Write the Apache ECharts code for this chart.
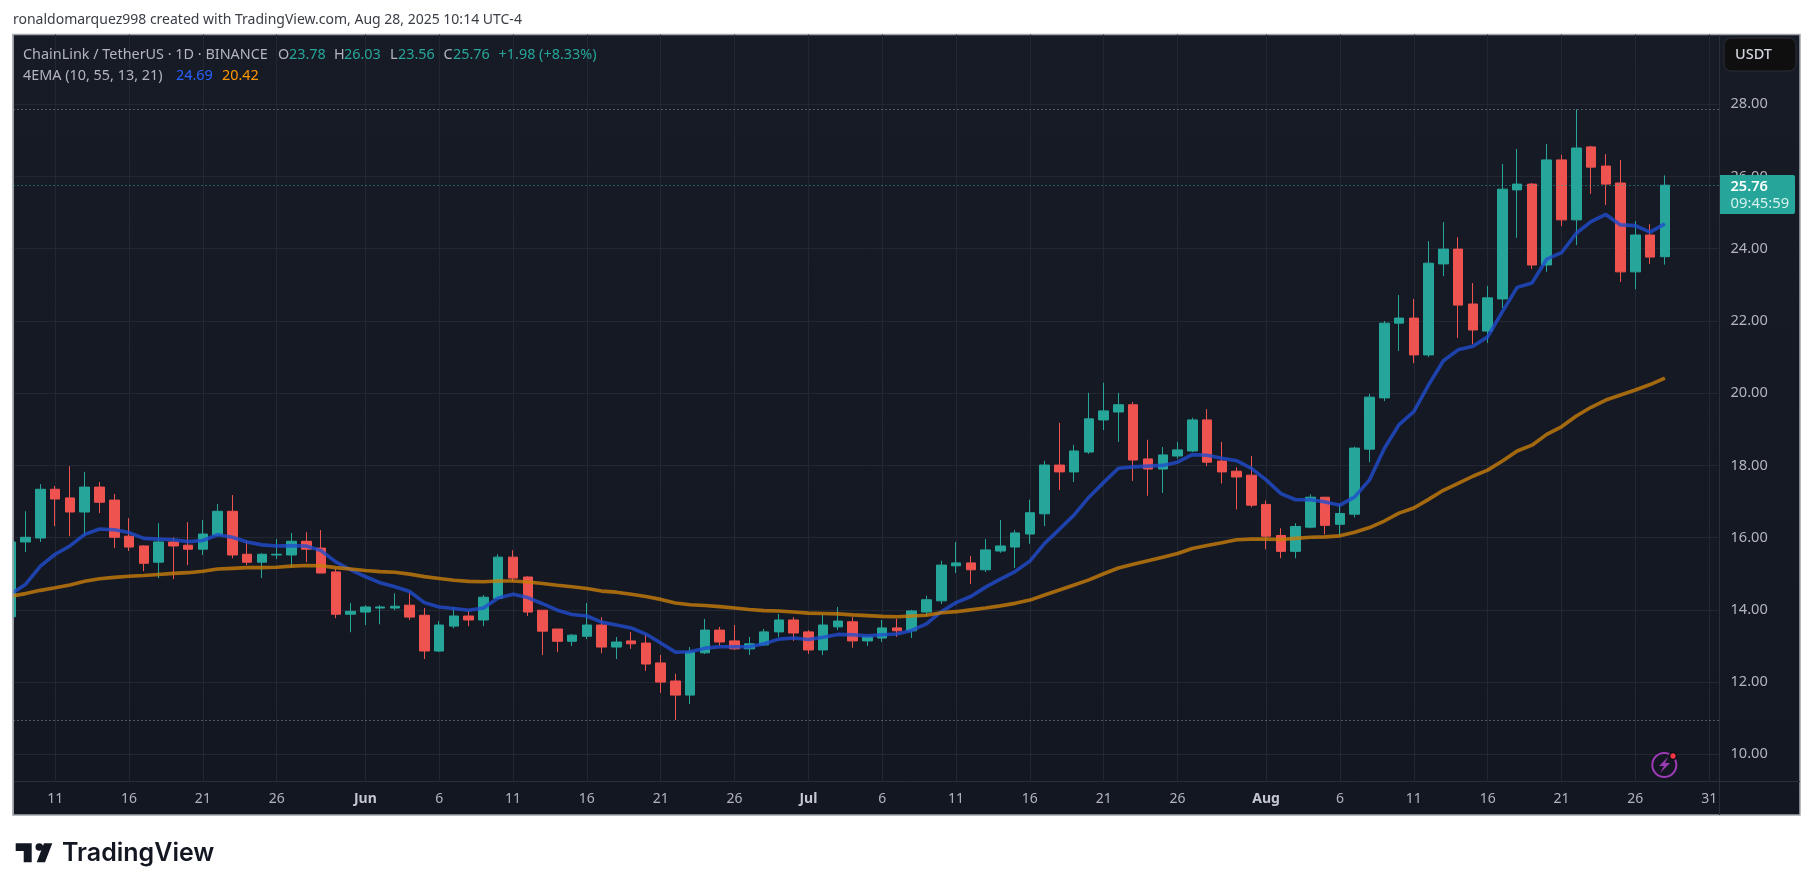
<!DOCTYPE html>
<html><head><meta charset="utf-8">
<style>html,body{margin:0;padding:0;background:#fff}#c{width:1814px;height:891px}</style>
<script src="https://cdn.jsdelivr.net/npm/echarts@6/dist/echarts.min.js"></script>
</head><body><div id="c"></div>
<script>
const dates=['05-08','05-09','05-10','05-11','05-12','05-13','05-14','05-15','05-16','05-17','05-18','05-19','05-20','05-21','05-22','05-23','05-24','05-25','05-26','05-27','05-28','05-29','05-30','05-31',
'06-01','06-02','06-03','06-04','06-05','06-06','06-07','06-08','06-09','06-10','06-11','06-12','06-13','06-14','06-15','06-16','06-17','06-18','06-19','06-20','06-21','06-22','06-23','06-24','06-25','06-26','06-27','06-28','06-29','06-30',
'07-01','07-02','07-03','07-04','07-05','07-06','07-07','07-08','07-09','07-10','07-11','07-12','07-13','07-14','07-15','07-16','07-17','07-18','07-19','07-20','07-21','07-22','07-23','07-24','07-25','07-26','07-27','07-28','07-29','07-30','07-31',
'08-01','08-02','08-03','08-04','08-05','08-06','08-07','08-08','08-09','08-10','08-11','08-12','08-13','08-14','08-15','08-16','08-17','08-18','08-19','08-20','08-21','08-22','08-23','08-24','08-25','08-26','08-27','08-28'];
const opens=[13.81,15.88,15.99,17.34,17.10,16.71,17.40,17.04,16.04,15.77,15.32,15.88,15.79,15.68,16.07,16.73,15.54,15.32,15.52,15.52,15.90,15.71,15.05,13.88,
13.94,14.05,14.05,14.13,13.85,12.86,13.55,13.83,13.72,14.32,15.46,14.91,13.99,13.47,13.13,13.27,13.58,12.97,13.14,13.08,12.53,12.03,11.64,12.81,13.44,13.14,12.92,13.03,13.39,13.72,
13.39,12.89,13.53,13.67,13.14,13.22,13.50,13.42,13.94,14.25,15.22,15.30,15.11,15.63,15.74,16.10,16.66,18.01,17.82,18.37,19.26,19.48,19.68,18.18,17.90,18.26,18.40,19.26,18.12,17.84,17.73,
16.92,16.06,15.62,16.29,17.12,16.37,16.65,18.45,19.87,21.94,22.08,21.06,23.58,23.99,22.47,21.72,22.61,25.63,25.79,23.55,26.46,24.80,26.82,26.29,25.82,23.36,24.38,23.78];
const closes=[15.88,16.01,17.34,17.07,16.71,17.40,16.98,16.01,15.74,15.29,15.88,15.77,15.68,16.10,16.73,15.52,15.32,15.54,15.54,15.90,15.68,15.02,13.88,13.96,
14.08,14.08,14.10,13.80,12.86,13.58,13.83,13.72,14.35,15.46,14.88,13.94,13.41,13.13,13.30,13.58,12.97,13.11,13.06,12.50,12.00,11.64,12.83,13.44,13.11,12.92,13.06,13.39,13.72,13.36,
12.89,13.58,13.69,13.14,13.25,13.50,13.42,13.97,14.28,15.24,15.30,15.11,15.66,15.77,16.13,16.69,18.01,17.82,18.40,19.29,19.51,19.68,18.15,17.90,18.29,18.43,19.26,18.09,17.82,17.68,16.90,
16.04,15.62,16.31,17.12,16.34,16.67,18.48,19.89,21.94,22.08,21.06,23.60,23.99,22.44,21.75,22.64,25.65,25.79,23.55,26.46,24.80,26.79,26.26,25.79,23.36,24.38,23.77,25.76];
const lows=[13.70,15.60,15.88,16.32,16.04,16.04,16.68,15.71,15.63,15.07,14.88,14.85,15.24,15.52,16.04,15.43,15.24,14.88,15.41,15.16,15.32,15.02,13.77,13.38,
13.58,13.60,13.99,13.72,12.64,12.83,13.49,13.55,13.55,14.32,14.77,13.83,12.75,12.83,13.00,13.19,12.80,12.64,12.92,12.31,11.70,10.95,11.39,12.78,13.00,12.89,12.75,13.00,13.25,13.14,
12.78,12.75,13.44,12.95,13.00,13.11,13.25,13.22,13.83,14.16,15.02,14.72,15.05,15.58,15.16,15.83,16.32,17.32,17.54,18.32,18.98,18.65,17.57,17.16,17.24,18.18,18.37,17.98,17.50,16.78,16.84,
15.68,15.43,15.43,16.26,16.09,16.06,16.56,18.09,19.78,21.17,20.83,21.00,23.24,21.53,21.36,21.39,22.36,24.30,23.44,23.36,24.63,24.10,25.52,25.21,23.08,22.88,23.58,23.56];
const highs=[15.95,16.73,17.48,17.43,17.98,17.82,17.54,17.21,16.54,15.79,16.40,16.01,16.43,16.49,16.93,17.18,15.90,15.57,15.96,16.13,16.15,16.21,15.13,14.19,
14.13,14.13,14.46,14.49,14.05,13.69,14.08,13.99,14.41,15.54,15.65,14.93,13.99,13.47,13.33,14.19,13.80,13.25,13.39,13.31,12.75,12.23,12.97,13.75,13.53,13.58,13.25,13.47,13.89,13.80,
13.44,13.86,14.08,13.80,13.28,13.72,13.75,14.00,14.39,15.36,15.88,15.49,15.96,16.49,16.21,17.05,18.13,19.18,18.57,20.01,20.29,20.01,19.76,18.71,18.51,18.65,19.32,19.56,18.65,17.95,18.26,
17.03,16.26,16.40,17.20,17.12,16.92,18.52,19.98,22.00,22.72,22.61,24.21,24.74,24.32,23.05,22.97,26.35,26.76,25.82,26.90,26.60,27.86,26.85,26.62,26.46,24.77,24.68,26.03];
const emaFast=[14.44,14.71,15.21,15.54,15.77,16.09,16.24,16.22,16.14,15.98,15.96,15.94,15.89,15.92,16.08,16.01,15.88,15.80,15.77,15.78,15.77,15.64,15.33,15.11,
14.92,14.75,14.64,14.51,14.20,14.08,14.04,13.99,14.05,14.33,14.43,14.34,14.17,13.99,13.87,13.83,13.66,13.58,13.50,13.33,13.08,12.83,12.84,12.94,12.98,12.98,12.98,13.06,13.19,13.22,
13.18,13.24,13.32,13.31,13.28,13.31,13.33,13.43,13.61,13.95,14.20,14.37,14.63,14.85,15.06,15.35,15.84,16.23,16.63,17.12,17.53,17.92,17.96,17.98,18.00,18.09,18.30,18.28,18.20,18.13,17.92,
17.60,17.22,17.05,17.05,16.99,16.90,17.13,17.60,18.47,19.13,19.49,20.23,20.90,21.20,21.30,21.56,22.26,22.93,23.05,23.71,23.89,24.43,24.75,24.95,24.66,24.64,24.46,24.69];
const emaSlow=[14.38,14.45,14.54,14.61,14.69,14.79,14.86,14.90,14.93,14.95,14.98,15.01,15.03,15.07,15.13,15.15,15.17,15.17,15.18,15.21,15.23,15.22,15.17,15.13,
15.09,15.06,15.04,14.99,14.92,14.87,14.82,14.79,14.78,14.80,14.80,14.77,14.73,14.68,14.64,14.59,14.52,14.49,14.43,14.37,14.29,14.19,14.14,14.12,14.09,14.05,14.01,13.98,13.97,13.94,
13.91,13.90,13.89,13.86,13.84,13.82,13.81,13.83,13.85,13.92,13.95,14.00,14.05,14.11,14.18,14.27,14.41,14.55,14.69,14.83,15.00,15.16,15.26,15.36,15.46,15.56,15.70,15.78,15.86,15.94,15.96,
15.96,15.95,15.98,16.01,16.02,16.05,16.15,16.28,16.46,16.68,16.82,17.06,17.31,17.50,17.70,17.87,18.12,18.40,18.56,18.86,19.07,19.37,19.61,19.81,19.95,20.09,20.24,20.42];
const priceTicks=[10,12,14,16,18,20,22,24,26,28];
const tickDates=['05-11','05-16','05-21','05-26','06-01','06-06','06-11','06-16','06-21','06-26','07-01','07-06','07-11','07-16','07-21','07-26','08-01','08-06','08-11','08-16','08-21','08-26','08-31'];
const tickLabels=['11','16','21','26','Jun','6','11','16','21','26','Jul','6','11','16','21','26','Aug','6','11','16','21','26','31'];
const monthLabels=['Jun','Jul','Aug'];
const lastPrice=25.76, rangeHigh=27.86, rangeLow=10.95;
const headerText='ronaldomarquez998 created with TradingView.com, Aug 28, 2025 10:14 UTC-4';

const dayIndex=md=>{const[m,d]=md.split('-').map(Number);return Math.round((Date.UTC(2025,m-1,d)-Date.UTC(2025,4,8))/864e5)};
const rows=dates.map((d,i)=>[dayIndex(d),opens[i],closes[i],lows[i],highs[i]]);
const fastRows=dates.map((d,i)=>[dayIndex(d),emaFast[i]]);
const slowRows=dates.map((d,i)=>[dayIndex(d),emaSlow[i]]);
const tickIdx=tickDates.map(dayIndex);
const labelOf={};tickIdx.forEach((v,i)=>labelOf[v]=tickLabels[i]);

const UP='#26a69a',DOWN='#ef5350',GREY='#b2b5be',F='"Noto Sans",sans-serif';
const T=(x,y,text,fill,opt={})=>({type:'text',z:opt.z||50,silent:true,x,y,style:{text,fill,font:(opt.w||'400')+' '+(opt.s||14.4)+'px '+(opt.f||F),textVerticalAlign:'middle',textBaseline:'middle',textAlign:opt.a||'left'}});

const graphics=[
 {type:'rect',z:-10,silent:true,shape:{x:13,y:34.5,width:1787,height:780.5},style:{stroke:'#a3a6ad',lineWidth:1.5,fill:{type:'linear',x:0,y:0,x2:0,y2:1,colorStops:[{offset:0,color:'#171b26'},{offset:1,color:'#131722'}]}}},
 {type:'line',z:-5,silent:true,shape:{x1:1719.5,y1:35,x2:1719.5,y2:815},style:{stroke:'#2a2e39',lineWidth:1}},
 {type:'line',z:-5,silent:true,shape:{x1:13.5,y1:781.5,x2:1800,y2:781.5},style:{stroke:'#2a2e39',lineWidth:1}},
 {type:'rect',z:40,silent:true,shape:{x:0,y:34,width:12.4,height:782},style:{fill:'#ffffff'}},
 {type:'line',z:41,silent:true,shape:{x1:13,y1:34,x2:13,y2:815.5},style:{stroke:'#a3a6ad',lineWidth:1.5}},
 T(13,20,headerText,'#3a3d45',{s:14}),
 T(23,55,'ChainLink / TetherUS · 1D · BINANCE',GREY),
 T(278,55,'O',GREY),T(289,55,'23.78',UP),
 T(334,55,'H',GREY),T(344,55,'26.03',UP),
 T(390,55,'L',GREY),T(398,55,'23.56',UP),
 T(443.5,55,'C',GREY),T(453,55,'25.76',UP),
 T(498.6,55,'+1.98 (+8.33%)',UP),
 T(23,76,'4EMA (10, 55, 13, 21)',GREY),
 T(176,76,'24.69','#2962ff'),T(222,76,'20.42','#ff9800'),
 {type:'rect',z:60,silent:true,shape:{x:1724,y:38,width:72,height:33,r:7},style:{fill:'#0f0f0f',stroke:'#2a2e39',lineWidth:1}},
 T(1735,54.5,'USDT','#d1d4dc',{w:'500',s:14.5,z:61}),
 {type:'rect',z:60,silent:true,shape:{x:1720,y:175,width:75,height:39,r:[0,2,2,0]},style:{fill:UP}},
 T(1730.5,187,'25.76','#ffffff',{w:'600',s:14.6,z:61}),
 T(1730.5,204,'09:45:59','#d6f0ed',{s:14.8,z:61}),
 {type:'circle',z:60,silent:true,shape:{cx:1664.3,cy:765,r:12},style:{fill:'#131722',stroke:'#9c3bb5',lineWidth:2}},
 {type:'polygon',z:61,silent:true,shape:{points:[[1668,757],[1659,766],[1664,766],[1660,773],[1670,763],[1665,763]]},style:{fill:'#9c3bb5'}},
 {type:'circle',z:62,silent:true,shape:{cx:1673,cy:756,r:3.4},style:{fill:'#f23645',stroke:'#0c0e14',lineWidth:1.5}},
 {type:'polygon',z:5,silent:true,shape:{points:[[15.7,843.3],[31.7,843.3],[31.7,862.3],[23.7,862.3],[23.7,851],[15.7,851]]},style:{fill:'#131722'}},
 {type:'circle',z:5,silent:true,shape:{cx:39.3,cy:847,r:3.8},style:{fill:'#131722'}},
 {type:'polygon',z:5,silent:true,shape:{points:[[44,843.3],[52.3,843.3],[45,862.3],[36.7,862.3]]},style:{fill:'#131722'}},
 T(62,853,'TradingView','#131722',{f:'Inter,sans-serif',w:'600',s:25,z:5})
];

const chart=echarts.init(document.getElementById('c'));
chart.setOption({
 animation:false,
 backgroundColor:'#ffffff',
 graphic:graphics,
 grid:{left:13.5,right:94.5,top:34.5,bottom:109.5,containLabel:false},
 xAxis:{type:'value',min:0.176,max:115.7,scale:true,
  axisLine:{show:false},
  axisTick:{show:false,customValues:tickIdx},
  splitLine:{show:true,lineStyle:{color:'#232732',width:1}},
  axisLabel:{customValues:tickIdx,margin:11,color:GREY,fontFamily:F,fontSize:14,hideOverlap:false,
   formatter:v=>{const s=labelOf[v];return monthLabels.includes(s)?'{m|'+s+'}':s},
   rich:{m:{color:'#c4c7ce',fontWeight:'bold',fontFamily:F,fontSize:14}}}},
 yAxis:{type:'value',position:'right',min:9.247,max:29.933,
  axisLine:{show:false},
  axisTick:{show:false,customValues:priceTicks},
  splitLine:{show:true,lineStyle:{color:'#232732',width:1}},
  axisLabel:{customValues:priceTicks,margin:11,padding:[2,0,0,0],color:GREY,fontFamily:F,fontSize:14.6,align:'left',formatter:v=>v.toFixed(2)}},
 series:[
  {type:'candlestick',name:'LINKUSDT',data:rows,encode:{x:0,y:[1,2,3,4]},barWidth:10,clip:true,z:3,
   itemStyle:{color:UP,color0:DOWN,borderColor:UP,borderColor0:DOWN,borderColorDoji:UP,borderWidth:1},
   markLine:{silent:true,symbol:'none',label:{show:false},animation:false,
    data:[{yAxis:rangeHigh,lineStyle:{color:'#9598a1',type:[1,3],width:1}},
          {yAxis:rangeLow,lineStyle:{color:'#9598a1',type:[1,3],width:1}},
          {yAxis:lastPrice,lineStyle:{color:UP,type:[1,3],width:1}}]}},
  {type:'line',name:'EMA fast',data:fastRows,symbol:'none',smooth:false,clip:true,z:4,lineStyle:{color:'rgba(33,76,205,0.8)',width:3.6}},
  {type:'line',name:'EMA slow',data:slowRows,symbol:'none',smooth:false,clip:true,z:4,lineStyle:{color:'rgba(200,125,10,0.8)',width:3.6}}
 ]
});
</script></body></html>
